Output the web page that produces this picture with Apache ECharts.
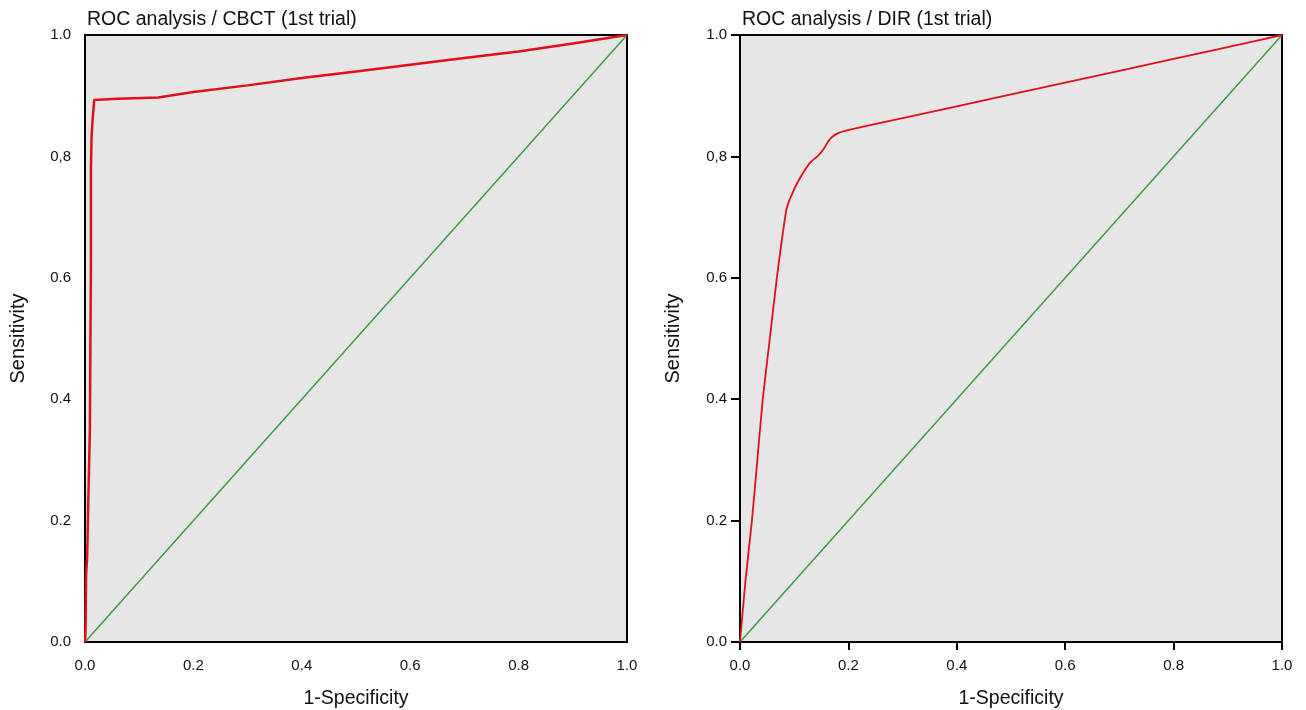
<!DOCTYPE html>
<html>
<head>
<meta charset="utf-8">
<script src="https://cdn.jsdelivr.net/npm/echarts@6/dist/echarts.min.js"></script>
<style>
  html, body { margin: 0; padding: 0; background: #ffffff; }
  #chart { width: 1306px; height: 710px; }
</style>
</head>
<body>
<div id="chart"></div>
<script>
  // ROC curve CBCT (1st trial)
  var cbctFpr = [0, 0.001, 0.002, 0.002, 0.004, 0.004, 0.006, 0.006, 0.009, 0.009, 0.011, 0.011, 0.011, 0.012, 0.014, 0.017, 0.06, 0.135, 0.2, 0.3, 0.4, 0.5, 0.6, 0.7, 0.8, 0.9, 1.0];
  var cbctTpr = [0, 0.02, 0.02, 0.11, 0.11, 0.14, 0.14, 0.23, 0.23, 0.35, 0.35, 0.63, 0.78, 0.83, 0.86, 0.893, 0.895, 0.897, 0.906, 0.917, 0.929, 0.94, 0.951, 0.962, 0.973, 0.986, 1.0];

  // ROC curve DIR (1st trial)
  var dirFpr = [0, 0.01, 0.022, 0.032, 0.042, 0.055, 0.068, 0.085, 0.09, 0.097, 0.105, 0.118, 0.13, 0.145, 0.155, 0.163, 0.17, 0.18, 0.197, 0.3, 0.5, 0.7, 0.9, 1.0];
  var dirTpr = [0, 0.1, 0.2, 0.3, 0.4, 0.5, 0.6, 0.71, 0.725, 0.74, 0.755, 0.775, 0.79, 0.802, 0.813, 0.825, 0.832, 0.838, 0.843, 0.863, 0.902, 0.941, 0.98, 1.0];

  // reference diagonal
  var diagX = [0, 1];
  var diagY = [0, 1];

  var titles = ['ROC analysis / CBCT (1st trial)', 'ROC analysis / DIR (1st trial)'];
  var xName = '1-Specificity';
  var yName = 'Sensitivity';

  function zip(xs, ys) {
    var out = [];
    for (var i = 0; i < xs.length; i++) out.push([xs[i], ys[i]]);
    return out;
  }

  var fontFam = '"Liberation Sans", Arial, sans-serif';

  function yFmt(v) {
    if (Math.abs(v - 0.8) < 1e-9) return '0,8';
    return v.toFixed(1);
  }

  function makeX(idx, ticks) {
    return {
      type: 'value', gridIndex: idx, min: 0, max: 1, interval: 0.2,
      name: xName, nameLocation: 'middle', nameGap: 47,
      nameTextStyle: {fontSize: 19.5, color: '#111', fontFamily: fontFam},
      axisLine: {show: true, lineStyle: {color: '#000', width: 2}},
      axisTick: {show: ticks, length: 8, lineStyle: {color: '#000', width: 2}},
      axisLabel: {fontSize: 15, color: '#111', fontFamily: fontFam, margin: 16,
        formatter: function (v) { return v.toFixed(1); }},
      splitLine: {show: false}
    };
  }

  function makeY(idx, ticks, gap) {
    return {
      type: 'value', gridIndex: idx, min: 0, max: 1, interval: 0.2,
      name: yName, nameLocation: 'middle', nameGap: gap,
      nameTextStyle: {fontSize: 20, color: '#111', fontFamily: fontFam},
      axisLine: {show: true, lineStyle: {color: '#000', width: 2}},
      axisTick: {show: ticks, length: 9, lineStyle: {color: '#000', width: 2}},
      axisLabel: {fontSize: 15, color: '#111', fontFamily: fontFam, margin: ticks ? 13 : 14, formatter: yFmt},
      splitLine: {show: false}
    };
  }

  var myChart = echarts.init(document.getElementById('chart'));
  var option = {
    backgroundColor: '#ffffff',
    animation: false,
    title: [
      {text: titles[0], left: 82, top: 5, textStyle: {fontSize: 19.5, fontWeight: 'normal', color: '#111', fontFamily: fontFam}},
      {text: titles[1], left: 737, top: 5, textStyle: {fontSize: 19.5, fontWeight: 'normal', color: '#111', fontFamily: fontFam}}
    ],
    grid: [
      {left: 85, right: 679, top: 35, bottom: 68, containLabel: false, outerBoundsMode: 'none',
        show: true, backgroundColor: '#e6e6e6', borderColor: '#000', borderWidth: 2},
      {left: 740, right: 24, top: 35, bottom: 68, containLabel: false, outerBoundsMode: 'none',
        show: true, backgroundColor: '#e6e6e6', borderColor: '#000', borderWidth: 2}
    ],
    xAxis: [makeX(0, false), makeX(1, true)],
    yAxis: [makeY(0, false, 57), makeY(1, true, 57)],
    series: [
      {type: 'line', xAxisIndex: 0, yAxisIndex: 0, data: zip(diagX, diagY), showSymbol: false, symbol: 'none',
        lineStyle: {color: '#3f9b3f', width: 1.5}, z: 2},
      {type: 'line', xAxisIndex: 0, yAxisIndex: 0, data: zip(cbctFpr, cbctTpr), showSymbol: false, symbol: 'none',
        lineStyle: {color: '#e0101a', width: 2.5}, z: 3},
      {type: 'line', xAxisIndex: 1, yAxisIndex: 1, data: zip(diagX, diagY), showSymbol: false, symbol: 'none',
        lineStyle: {color: '#3f9b3f', width: 1.5}, z: 2},
      {type: 'line', xAxisIndex: 1, yAxisIndex: 1, data: zip(dirFpr, dirTpr), showSymbol: false, symbol: 'none',
        smooth: 0.2, lineStyle: {color: '#e0101a', width: 1.8}, z: 3}
    ]
  };
  myChart.setOption(option);
</script>
</body>
</html>
